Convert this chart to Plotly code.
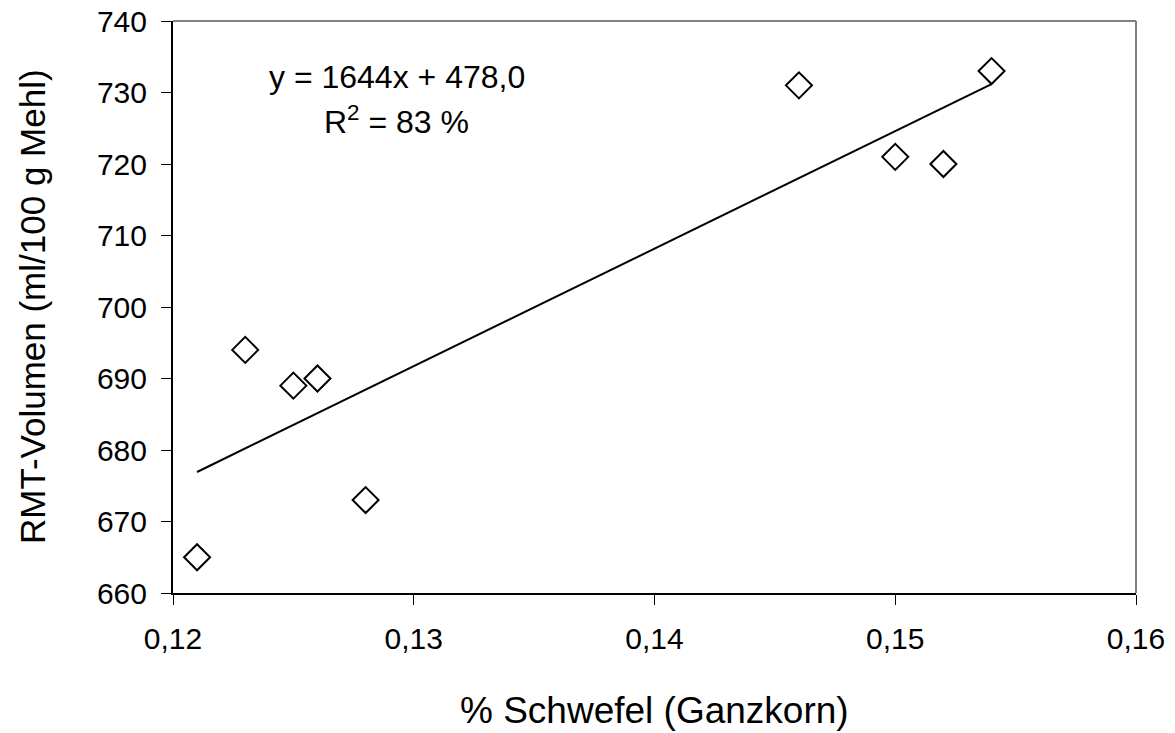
import plotly.graph_objects as go

# Schwefel vs. RMT-Volumen
schwefel = [0.121, 0.123, 0.125, 0.126, 0.128, 0.146, 0.150, 0.152, 0.154]
volumen = [665, 694, 689, 690, 673, 731, 721, 720, 733]

# Regression as printed on the chart
slope = 1644
intercept = 478.0
fit_x = [min(schwefel), max(schwefel)]
fit_y = [slope * v + intercept for v in fit_x]

font = "Liberation Sans, Arial, sans-serif"

fig = go.Figure()
fig.add_trace(go.Scatter(x=fit_x, y=fit_y, mode="lines",
                         line=dict(color="black", width=2), hoverinfo="skip"))
fig.add_trace(go.Scatter(x=schwefel, y=volumen, mode="markers",
                         marker=dict(symbol="diamond-open", size=20,
                                     color="black", line=dict(width=2))))

fig.update_layout(
    width=1175, height=733,
    margin=dict(l=165, r=47, t=13, b=148),
    paper_bgcolor="white", plot_bgcolor="white",
    showlegend=False,
    separators=",.",
    font=dict(family=font, size=30, color="black"),
)
fig.update_xaxes(range=[0.12, 0.16], dtick=0.01, tickformat=".2f",
                 showgrid=False, zeroline=False, automargin=False,
                 showline=True, linecolor="black", linewidth=2,
                 ticks="outside", ticklen=10, tickcolor="black",
                 ticklabelstandoff=8, ticklabeloverflow="allow")
fig.update_yaxes(range=[660, 740], dtick=10,
                 showgrid=False, zeroline=False, automargin=False,
                 showline=True, linecolor="black", linewidth=2,
                 ticks="outside", ticklen=10, tickcolor="black",
                 ticklabelstandoff=8, ticklabeloverflow="allow")

# grey top and right frame
fig.add_shape(type="line", xref="paper", yref="paper", x0=0, x1=1, y0=1, y1=1,
              line=dict(color="#808080", width=2))
fig.add_shape(type="line", xref="paper", yref="paper", x0=1, x1=1, y0=0, y1=1,
              line=dict(color="#808080", width=2))

# axis titles
fig.add_annotation(text="% Schwefel (Ganzkorn)", xref="paper", yref="paper",
                   x=0.5, y=0, yshift=-117, xanchor="center", yanchor="middle",
                   showarrow=False, font=dict(size=37))
fig.add_annotation(text="RMT-Volumen (ml/100 g Mehl)", xref="paper", yref="paper",
                   x=0, y=0.5, xshift=-141, xanchor="center", yanchor="middle",
                   textangle=-90, showarrow=False, font=dict(size=35))

# regression text
fig.add_annotation(text="y = 1644x + 478,0", x=0.1293, y=732.2,
                   showarrow=False, font=dict(size=32))
fig.add_annotation(text="R<sup>2</sup> = 83 %", x=0.1293, y=726.2,
                   showarrow=False, font=dict(size=32))

fig.write_html("out.html")
